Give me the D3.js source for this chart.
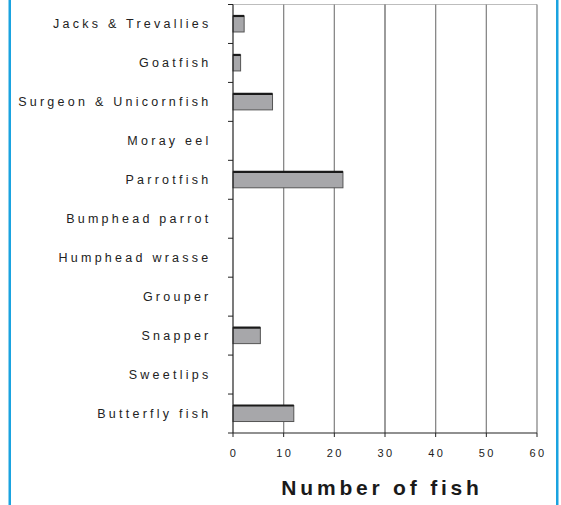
<!DOCTYPE html>
<html><head><meta charset="utf-8">
<script src="https://cdn.jsdelivr.net/npm/d3@7"></script>
<style>body{margin:0;background:#fff;}svg{display:block;}</style>
</head><body>
<script>
const categories = ["Jacks & Trevallies","Goatfish","Surgeon & Unicornfish","Moray eel","Parrotfish","Bumphead parrot","Humphead wrasse","Grouper","Snapper","Sweetlips","Butterfly fish"];
const values = [2.2, 1.5, 7.8, 0, 21.7, 0, 0, 0, 5.4, 0, 12];
const xTicks = [0,10,20,30,40,50,60];
const xTitle = "Number of fish";

(function(){
const W = 561, H = 505;
const svg = d3.select("body").append("svg").attr("width", W).attr("height", H);
const pL = 233, pR = 537, pT = 4.5, pB = 433;
const x = d3.scaleLinear().domain([0,60]).range([pL,pR]);
const y = d3.scaleBand().domain(categories).range([pT,pB]);

// blue frame lines
svg.append("rect").attr("x",8.5).attr("y",0).attr("width",2.5).attr("height",H).attr("fill","#1aa3e0");
svg.append("rect").attr("x",556).attr("y",0).attr("width",2.5).attr("height",H).attr("fill","#1aa3e0");

// top border
svg.append("line").attr("x1",pL).attr("x2",pR).attr("y1",pT).attr("y2",pT).attr("stroke","#bdbdbd").attr("stroke-width",1.2);

// gridlines
svg.selectAll(".grid").data(xTicks.slice(1)).enter().append("line")
  .attr("x1",d=>x(d)).attr("x2",d=>x(d)).attr("y1",pT).attr("y2",pB)
  .attr("stroke",d=>d===30?"#666":"#888").attr("stroke-width",1.3);

// bars
const bh = 16;
const g = svg.append("g");
values.forEach((v,i)=>{
  if(v<=0) return;
  const yc = y(categories[i]) + y.bandwidth()/2;
  g.append("rect").attr("x",x(0)).attr("y",yc-bh/2).attr("width",x(v)-x(0)).attr("height",bh)
    .attr("fill","#a7a7aa").attr("stroke","#555").attr("stroke-width",1);
  g.append("line").attr("x1",x(0)).attr("x2",x(v)).attr("y1",yc-bh/2).attr("y2",yc-bh/2)
    .attr("stroke","#1a1a1a").attr("stroke-width",2.2);
});

// y axis
const yAxis = svg.append("g");
yAxis.append("line").attr("x1",pL).attr("x2",pL).attr("y1",pT).attr("y2",pB).attr("stroke","#222").attr("stroke-width",1.2);
const yTickPos = categories.map(c=>y(c)).concat([pB]);
yAxis.selectAll(".yt").data(yTickPos).enter().append("line")
  .attr("x1",pL-5).attr("x2",pL).attr("y1",d=>d).attr("y2",d=>d).attr("stroke","#222").attr("stroke-width",1);
yAxis.selectAll(".yl").data(categories).enter().append("text")
  .attr("x",211.5).attr("y",d=>y(d)+y.bandwidth()/2).attr("dy","0.36em")
  .attr("text-anchor","end").attr("font-family","Liberation Sans, Arial, sans-serif")
  .attr("font-size",12.5).attr("letter-spacing",3.25).attr("fill","#222").text(d=>d);

// x axis
const xAxis = svg.append("g");
xAxis.append("line").attr("x1",pL).attr("x2",pR).attr("y1",pB).attr("y2",pB).attr("stroke","#222").attr("stroke-width",1.2);
xAxis.selectAll(".xt").data(xTicks).enter().append("line")
  .attr("x1",d=>x(d)).attr("x2",d=>x(d)).attr("y1",pB).attr("y2",pB+4).attr("stroke","#222");
xAxis.selectAll(".xl").data(xTicks).enter().append("text")
  .attr("x",d=>x(d)+1).attr("y",457).attr("text-anchor","middle")
  .attr("font-family","Liberation Sans, Arial, sans-serif").attr("font-size",11).attr("letter-spacing",2.4)
  .attr("fill","#222").text(d=>d);

svg.append("text").attr("x",382).attr("y",495).attr("text-anchor","middle")
  .attr("font-family","Liberation Sans, Arial, sans-serif").attr("font-weight","bold")
  .attr("font-size",21).attr("letter-spacing",3.8).attr("fill","#1a1a1a").text(xTitle);
})();
</script>
</body></html>
